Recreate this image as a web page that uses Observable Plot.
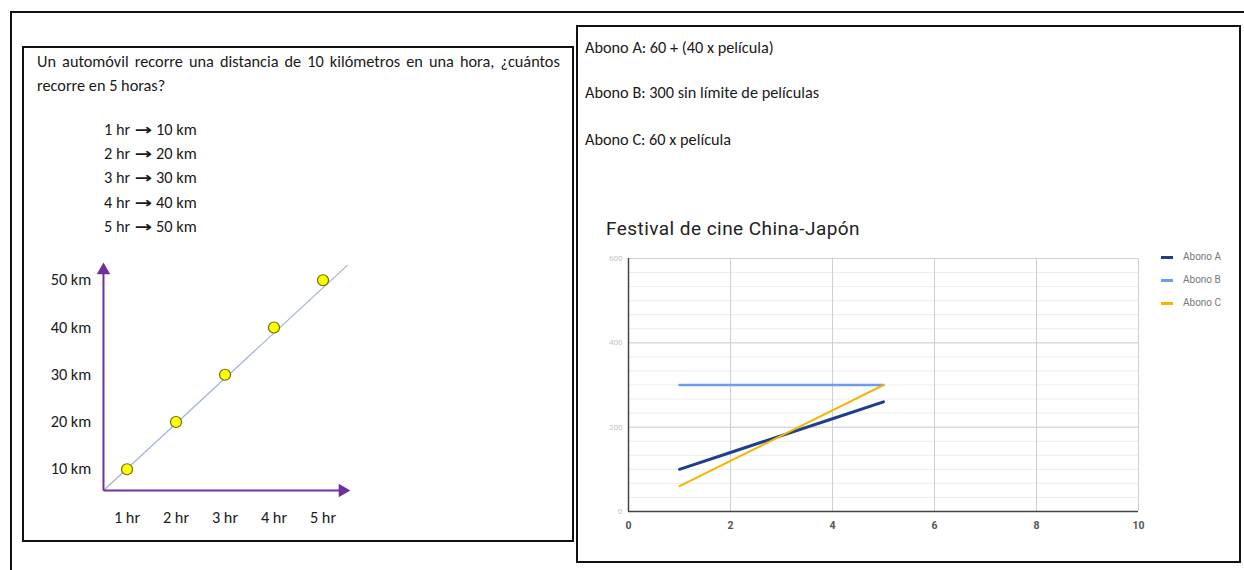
<!DOCTYPE html>
<html>
<head>
<meta charset="utf-8">
<script src="https://cdn.jsdelivr.net/npm/d3@7"></script>
<script src="https://cdn.jsdelivr.net/npm/@observablehq/plot@0.6"></script>
<style>
  html, body { margin: 0; padding: 0; background: #fff; }
  #page { position: relative; width: 1244px; height: 570px; overflow: hidden; background: #fff; }
  .abs { position: absolute; white-space: nowrap; line-height: 1; }
  .doc { font-family: Carlito, Lato, "Liberation Sans", sans-serif; color: #1a1a1a; font-size: 16.3px; }
  .box { position: absolute; border: 2px solid #111; box-sizing: border-box; }
  .layer { position: absolute; left: 0; top: 0; }
  .legend { font-family: Roboto, Arial, sans-serif; font-size: 10px; color: #777; }
  .sw { display: inline-block; width: 12px; height: 3px; vertical-align: middle; margin-right: 10px; }
  .arr { display: inline-block; font-family: "DejaVu Sans", sans-serif; font-weight: bold; font-size: 15px;
         transform: scaleX(1.4); margin: 0 3px; }
</style>
</head>
<body>
<div id="page">
  <!-- sheet frame -->
  <div class="abs" style="left:10px;top:11px;width:1240px;height:2px;background:#111"></div>
  <div class="abs" style="left:10px;top:11px;width:2px;height:570px;background:#111"></div>
  <div class="box" style="left:22px;top:46px;width:552px;height:496px"></div>
  <div class="box" style="left:576px;top:25px;width:665px;height:538px"></div>

  <!-- distance problem -->
  <div class="abs doc" style="left:37px;top:53px;word-spacing:2.4px">Un automóvil recorre una distancia de 10 kilómetros en una hora, ¿cuántos</div>
  <div class="abs doc" style="left:37px;top:77px">recorre en 5 horas?</div>
  <div id="steps"></div>

  <!-- season ticket descriptions -->
  <div class="abs doc" style="left:585px;top:39px">Abono A: 60 + (40 x película)</div>
  <div class="abs doc" style="left:585px;top:84px">Abono B: 300 sin límite de películas</div>
  <div class="abs doc" style="left:585px;top:131px">Abono C: 60 x película</div>

  <div class="abs" style="left:606px;top:219px;font-family:Roboto,Arial,sans-serif;font-size:19px;letter-spacing:0.45px;color:#222">Festival de cine China-Japón</div>
  <div id="legend"></div>
</div>
<script>
// ---- distance vs time ----
const hours = [1, 2, 3, 4, 5];
const km = [10, 20, 30, 40, 50];
const hourLabels = ["1 hr", "2 hr", "3 hr", "4 hr", "5 hr"];
const kmLabels = ["10 km", "20 km", "30 km", "40 km", "50 km"];
// where the hand-drawn axes start and end (hours, km)
const axisOrigin = [0.52, 5.5];
const axisEnds = [5.5, 53.6];
const trendEnd = [5.5, 53.2];

// ---- film festival season tickets ----
const films = [1, 2, 3, 4, 5];
const abonoA = [100, 140, 180, 220, 260];
const abonoB = [300, 300, 300, 300, 300];
const abonoC = [60, 120, 180, 240, 300];
const seriesNames = ["Abono A", "Abono B", "Abono C"];
const seriesColors = ["#1f3f8c", "#6d9eeb", "#f6b400"];
const xTicks = [0, 2, 4, 6, 8, 10];
const yTicks = [0, 200, 400, 600];

const page = document.getElementById("page");
const W = 1244, H = 570;

// step list "1 hr → 10 km"
const steps = document.getElementById("steps");
hours.forEach((h, i) => {
  const d = document.createElement("div");
  d.className = "abs doc";
  d.style.left = "104px";
  d.style.top = (121 + i * 24.2) + "px";
  d.innerHTML = `${hourLabels[i]} <span class="arr">→</span> ${kmLabels[i]}`;
  steps.appendChild(d);
});

const purple = "#7030a0";
const docFont = "Carlito, Lato, sans-serif";

// plot frame of the distance diagram: 0–6 hr, 0–60 km
const lx = [77.5, 371.5], ly = [516, 232.5];
const left = Plot.plot({
  width: W, height: H,
  marginLeft: lx[0], marginRight: W - lx[1], marginTop: ly[1], marginBottom: H - ly[0],
  style: {background: "transparent", overflow: "visible"},
  x: {domain: [0, 6], axis: null},
  y: {domain: [0, 60], axis: null},
  marks: [
    Plot.link([0], {x1: axisOrigin[0], y1: axisOrigin[1], x2: trendEnd[0], y2: trendEnd[1], stroke: "#9db3d8", strokeWidth: 1.2}),
    Plot.link([0], {x1: axisOrigin[0], y1: axisOrigin[1], x2: axisEnds[0] - 0.08, y2: axisOrigin[1], stroke: purple, strokeWidth: 2}),
    Plot.link([0], {x1: axisOrigin[0], y1: axisOrigin[1], x2: axisOrigin[0], y2: axisEnds[1] - 1.5, stroke: purple, strokeWidth: 2}),
    Plot.dot([0], {x: axisEnds[0] - 0.1, y: axisOrigin[1], symbol: "triangle", rotate: 90, r: 5, fill: purple, stroke: "none"}),
    Plot.dot([0], {x: axisOrigin[0], y: axisEnds[1] - 1.5, symbol: "triangle", r: 5, fill: purple, stroke: "none"}),
    Plot.dot(hours, {x: d => d, y: (d, i) => km[i], r: 5.5, fill: "#ffff00", stroke: "#6b6b10", strokeWidth: 1.2}),
    Plot.text(km, {x: 0.27, y: d => d, text: (d, i) => kmLabels[i], textAnchor: "end", fontSize: 16.3, fontFamily: docFont, fill: "#1a1a1a"}),
    Plot.text(hours, {x: d => d, y: -0.3, text: (d, i) => hourLabels[i], fontSize: 16.3, fontFamily: docFont, fill: "#1a1a1a"})
  ]
});
left.classList.add("layer");
page.appendChild(left);

const rows = [];
[abonoA, abonoB, abonoC].forEach((vals, k) => {
  films.forEach((f, i) => rows.push({f, v: vals[i], s: seriesNames[k]}));
});
// light minor gridlines between the labelled ones
const minor = d3.range(0, 600.01, 200 / 6);

// plot frame of the festival chart: 0–10 films, 0–600
const rx = [628, 1138], ry = [511, 258];
const right = Plot.plot({
  width: W, height: H,
  marginLeft: rx[0], marginRight: W - rx[1], marginTop: ry[1], marginBottom: H - ry[0],
  style: {background: "transparent", overflow: "visible"},
  x: {domain: [0, 10], axis: null},
  y: {domain: [0, 600], axis: null},
  color: {domain: seriesNames, range: seriesColors},
  marks: [
    Plot.ruleY(minor, {stroke: "#ececec", strokeWidth: 1}),
    Plot.ruleY(yTicks, {stroke: "#cfcfcf", strokeWidth: 1}),
    Plot.ruleX(xTicks.filter(d => d > 0), {stroke: "#cfcfcf", strokeWidth: 1}),
    Plot.ruleX([0], {stroke: "#444", strokeWidth: 1.5}),
    Plot.ruleY([0], {stroke: "#444", strokeWidth: 1.5}),
    Plot.line(rows.filter(d => d.s === "Abono A"), {x: "f", y: "v", stroke: "s", strokeWidth: 3}),
    Plot.line(rows.filter(d => d.s === "Abono B"), {x: "f", y: "v", stroke: "s", strokeWidth: 2.5}),
    Plot.line(rows.filter(d => d.s === "Abono C"), {x: "f", y: "v", stroke: "s", strokeWidth: 2}),
    Plot.text(xTicks, {x: d => d, y: 0, dy: 14, text: d => String(d), fontSize: 10.5, fontWeight: "bold", fontFamily: "Roboto, Arial, sans-serif", fill: "#555"}),
    Plot.text(yTicks, {x: 0, y: d => d, dx: -6, text: d => String(d), textAnchor: "end", fontSize: 8, fontFamily: "Roboto, Arial, sans-serif", fill: "#c4c4c4"})
  ]
});
right.classList.add("layer");
page.appendChild(right);

// legend
const legend = document.getElementById("legend");
seriesNames.forEach((name, i) => {
  const d = document.createElement("div");
  d.className = "abs legend";
  d.style.left = "1161px";
  d.style.top = (252 + i * 23) + "px";
  d.innerHTML = `<span class="sw" style="background:${seriesColors[i]}"></span>${name}`;
  legend.appendChild(d);
});
</script>
</body>
</html>
